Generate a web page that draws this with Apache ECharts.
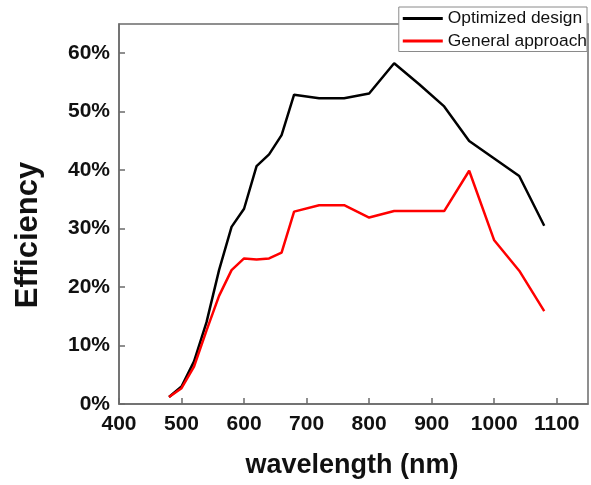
<!DOCTYPE html>
<html><head><meta charset="utf-8">
<script src="https://cdn.jsdelivr.net/npm/echarts@6/dist/echarts.min.js"></script>
<style>html,body{margin:0;padding:0;background:#fff}#c{width:591px;height:485px}</style>
</head><body><div id="c"></div>
<script>
const wavelengthOpt = [480,500,520,540,560,580,600,620,640,660,680,720,760,800,840,880,920,960,1000,1040,1080];
const optimized =     [1.2,3.0,7.3,14.0,22.9,30.3,33.4,40.7,42.7,46.0,52.9,52.3,52.3,53.1,58.3,54.7,50.9,45.0,42.0,39.0,30.5];
const wavelengthGen = [480,500,520,540,560,580,600,620,640,660,680,720,760,800,840,880,920,960,1000,1040,1080];
const general =       [1.2,2.7,6.4,12.6,18.5,22.9,24.9,24.7,24.9,25.9,32.9,34.0,34.0,31.9,33.0,33.0,33.0,39.9,28.0,22.8,15.9];
const seriesNames = ['Optimized design','General approach'];
const xTicks = {min:400,max:1150,interval:100};
const yTicks = {min:0,max:65,interval:10};
const xTitle = 'wavelength (nm)';
const yTitle = 'Efficiency';

const chart = echarts.init(document.getElementById('c'));
const font = 'Arial, "Liberation Sans", sans-serif';
chart.setOption({
  animation:false,
  backgroundColor:'#fff',
  grid:{left:119,right:3,top:24,bottom:81,show:true,borderColor:'#6b6b6b',borderWidth:1.5,backgroundColor:'transparent'},
  legend:{
    orient:'vertical', right:4, top:7, backgroundColor:'#fff', borderColor:'#8a8a8a', borderWidth:1,
    padding:[1,0,0,4], itemGap:1.5, itemWidth:40, itemHeight:3, icon:'rect',
    textStyle:{fontFamily:font,fontSize:17.4,color:'#111',lineHeight:21},
    data:seriesNames
  },
  graphic:[
    {type:'text',x:352,y:466,style:{text:xTitle,font:'bold 27px '+font,fill:'#111',x:0,y:0,align:'center',verticalAlign:'middle'}},
    {type:'text',x:28,y:235,rotation:Math.PI/2,style:{text:yTitle,font:'bold 31px '+font,fill:'#111',x:0,y:0,align:'center',verticalAlign:'middle'}}
  ],
  xAxis:{type:'value',min:xTicks.min,max:xTicks.max,interval:xTicks.interval,
    axisLine:{show:true,lineStyle:{color:'#6b6b6b',width:1.5}},
    axisTick:{show:true,inside:true,length:6,lineStyle:{color:'#6b6b6b',width:1.5}},
    axisLabel:{fontFamily:font,fontSize:21,fontWeight:'bold',color:'#111',margin:10,showMaxLabel:false,
      formatter:v=> v>1100?'':String(v)},
    splitLine:{show:false}},
  yAxis:{type:'value',min:yTicks.min,max:yTicks.max,interval:yTicks.interval,
    axisLine:{show:true,lineStyle:{color:'#6b6b6b',width:1.5}},
    axisTick:{show:true,inside:true,length:6,lineStyle:{color:'#6b6b6b',width:1.5}},
    axisLabel:{fontFamily:font,fontSize:21,fontWeight:'bold',color:'#111',margin:9,showMaxLabel:false,
      formatter:v=> v>60?'':v+'%'},
    splitLine:{show:false}},
  series:[
    {name:seriesNames[0],type:'line',symbol:'none',lineStyle:{color:'#000',width:2.5},itemStyle:{color:'#000'},
      data:wavelengthOpt.map((x,i)=>[x,optimized[i]])},
    {name:seriesNames[1],type:'line',symbol:'none',lineStyle:{color:'#ff0000',width:2.5},itemStyle:{color:'#ff0000'},
      data:wavelengthGen.map((x,i)=>[x,general[i]])}
  ]
});
</script></body></html>
